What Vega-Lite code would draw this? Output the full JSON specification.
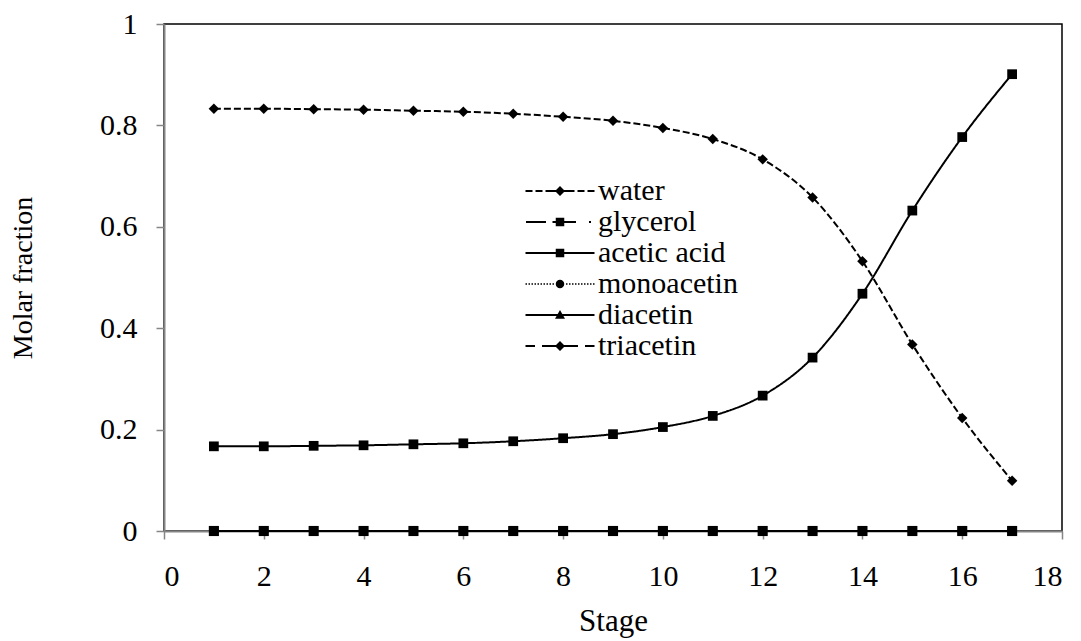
{
  "$schema": "https://vega.github.io/schema/vega-lite/v6.json",
  "autosize": "none",
  "width": 898,
  "height": 507,
  "padding": {"left": 164, "top": 24, "right": 19, "bottom": 110},
  "background": "white",
  "data": {
    "values": [
      {"stage": 1, "water": 0.833, "glycerol": 0, "acetic acid": 0.167, "monoacetin": 0, "diacetin": 0, "triacetin": 0},
      {"stage": 2, "water": 0.833, "glycerol": 0, "acetic acid": 0.167, "monoacetin": 0, "diacetin": 0, "triacetin": 0},
      {"stage": 3, "water": 0.832, "glycerol": 0, "acetic acid": 0.168, "monoacetin": 0, "diacetin": 0, "triacetin": 0},
      {"stage": 4, "water": 0.831, "glycerol": 0, "acetic acid": 0.169, "monoacetin": 0, "diacetin": 0, "triacetin": 0},
      {"stage": 5, "water": 0.829, "glycerol": 0, "acetic acid": 0.171, "monoacetin": 0, "diacetin": 0, "triacetin": 0},
      {"stage": 6, "water": 0.827, "glycerol": 0, "acetic acid": 0.173, "monoacetin": 0, "diacetin": 0, "triacetin": 0},
      {"stage": 7, "water": 0.823, "glycerol": 0, "acetic acid": 0.177, "monoacetin": 0, "diacetin": 0, "triacetin": 0},
      {"stage": 8, "water": 0.817, "glycerol": 0, "acetic acid": 0.183, "monoacetin": 0, "diacetin": 0, "triacetin": 0},
      {"stage": 9, "water": 0.809, "glycerol": 0, "acetic acid": 0.191, "monoacetin": 0, "diacetin": 0, "triacetin": 0},
      {"stage": 10, "water": 0.795, "glycerol": 0, "acetic acid": 0.205, "monoacetin": 0, "diacetin": 0, "triacetin": 0},
      {"stage": 11, "water": 0.773, "glycerol": 0, "acetic acid": 0.227, "monoacetin": 0, "diacetin": 0, "triacetin": 0},
      {"stage": 12, "water": 0.733, "glycerol": 0, "acetic acid": 0.267, "monoacetin": 0, "diacetin": 0, "triacetin": 0},
      {"stage": 13, "water": 0.658, "glycerol": 0, "acetic acid": 0.342, "monoacetin": 0, "diacetin": 0, "triacetin": 0},
      {"stage": 14, "water": 0.532, "glycerol": 0, "acetic acid": 0.468, "monoacetin": 0, "diacetin": 0, "triacetin": 0},
      {"stage": 15, "water": 0.368, "glycerol": 0, "acetic acid": 0.632, "monoacetin": 0, "diacetin": 0, "triacetin": 0},
      {"stage": 16, "water": 0.223, "glycerol": 0, "acetic acid": 0.777, "monoacetin": 0, "diacetin": 0, "triacetin": 0},
      {"stage": 17, "water": 0.099, "glycerol": 0, "acetic acid": 0.901, "monoacetin": 0, "diacetin": 0, "triacetin": 0}
    ]
  },
  "transform": [
    {"fold": ["water", "triacetin", "diacetin", "monoacetin", "acetic acid", "glycerol"], "as": ["series", "value"]}
  ],
  "encoding": {
    "x": {
      "field": "stage", "type": "quantitative",
      "scale": {"domain": [0, 18], "nice": false, "zero": false},
      "axis": {"values": [0, 2, 4, 6, 8, 10, 12, 14, 16, 18], "title": "Stage", "labelPadding": 22, "titlePadding": 15, "titleFontSize": 31}
    },
    "y": {
      "field": "value", "type": "quantitative",
      "scale": {"domain": [0, 1], "nice": false},
      "axis": {"values": [0, 0.2, 0.4, 0.6, 0.8, 1], "format": "~g", "title": "Molar fraction", "labelPadding": 19, "titlePadding": 62, "titleFontSize": 28}
    }
  },
  "layer": [
    {
      "mark": {"type": "line", "color": "black", "strokeWidth": 2, "interpolate": "monotone"},
      "encoding": {
        "strokeDash": {
          "field": "series", "type": "nominal",
          "scale": {
            "domain": ["water", "glycerol", "acetic acid", "monoacetin", "diacetin", "triacetin"],
            "range": [[7, 3], [12, 4, 1, 4], [1, 0], [1.5, 2], [1, 0], [6, 6]]
          },
          "legend": null
        }
      }
    },
    {
      "mark": {"type": "point", "filled": true, "color": "black", "opacity": 1},
      "encoding": {
        "shape": {
          "field": "series", "type": "nominal",
          "scale": {
            "domain": ["water", "glycerol", "acetic acid", "monoacetin", "diacetin", "triacetin"],
            "range": ["diamond", "square", "square", "circle", "triangle-up", "diamond"]
          },
          "legend": null
        },
        "size": {
          "field": "series", "type": "nominal",
          "scale": {
            "domain": ["water", "glycerol", "acetic acid", "monoacetin", "diacetin", "triacetin"],
            "range": [110, 72, 72, 60, 60, 110]
          },
          "legend": null
        }
      }
    },
    {
      "mark": {"type": "point", "filled": true, "color": "black", "opacity": 0, "size": 100, "strokeWidth": 0},
      "encoding": {
        "shape": {
          "field": "series", "type": "nominal",
          "scale": {
            "domain": ["water", "glycerol", "acetic acid", "monoacetin", "diacetin", "triacetin"],
            "range": [
              "M -6.9 -0.2 L -5.5 -0.2 L -5.5 0.2 L -6.9 0.2 Z M -4.9 -0.2 L -3.5 -0.2 L -3.5 0.2 L -4.9 0.2 Z M -2.9 -0.2 L -0.8 -0.2 L -0.8 0.2 L -2.9 0.2 Z M 0.8 -0.2 L 2.9 -0.2 L 2.9 0.2 L 0.8 0.2 Z M 3.5 -0.2 L 4.9 -0.2 L 4.9 0.2 L 3.5 0.2 Z M 5.5 -0.2 L 6.9 -0.2 L 6.9 0.2 L 5.5 0.2 Z M 0 -1 L 1 0 L 0 1 L -1 0 Z",
              "M -6.8 -0.2 L -2.8 -0.2 L -2.8 0.2 L -6.8 0.2 Z M -1.5 -0.2 L 3.2 -0.2 L 3.2 0.2 L -1.5 0.2 Z M 5.8 -0.2 L 6.2 -0.2 L 6.2 0.2 L 5.8 0.2 Z M -0.85 -0.85 L 0.85 -0.85 L 0.85 0.85 L -0.85 0.85 Z",
              "M -6.9 -0.2 L 6.9 -0.2 L 6.9 0.2 L -6.9 0.2 Z M -0.85 -0.85 L 0.85 -0.85 L 0.85 0.85 L -0.85 0.85 Z",
              "M -6.9 -0.15 L -6.6 -0.15 L -6.6 0.15 L -6.9 0.15 Z M -6.3 -0.15 L -6.0 -0.15 L -6.0 0.15 L -6.3 0.15 Z M -5.7 -0.15 L -5.4 -0.15 L -5.4 0.15 L -5.7 0.15 Z M -5.1 -0.15 L -4.8 -0.15 L -4.8 0.15 L -5.1 0.15 Z M -4.5 -0.15 L -4.2 -0.15 L -4.2 0.15 L -4.5 0.15 Z M -3.9 -0.15 L -3.6 -0.15 L -3.6 0.15 L -3.9 0.15 Z M -3.3 -0.15 L -3.0 -0.15 L -3.0 0.15 L -3.3 0.15 Z M -2.7 -0.15 L -2.4 -0.15 L -2.4 0.15 L -2.7 0.15 Z M -2.1 -0.15 L -1.8 -0.15 L -1.8 0.15 L -2.1 0.15 Z M -1.5 -0.15 L -1.2 -0.15 L -1.2 0.15 L -1.5 0.15 Z M 1.2 -0.15 L 1.5 -0.15 L 1.5 0.15 L 1.2 0.15 Z M 1.8 -0.15 L 2.1 -0.15 L 2.1 0.15 L 1.8 0.15 Z M 2.4 -0.15 L 2.7 -0.15 L 2.7 0.15 L 2.4 0.15 Z M 3.0 -0.15 L 3.3 -0.15 L 3.3 0.15 L 3.0 0.15 Z M 3.6 -0.15 L 3.9 -0.15 L 3.9 0.15 L 3.6 0.15 Z M 4.2 -0.15 L 4.5 -0.15 L 4.5 0.15 L 4.2 0.15 Z M 4.8 -0.15 L 5.1 -0.15 L 5.1 0.15 L 4.8 0.15 Z M 5.4 -0.15 L 5.7 -0.15 L 5.7 0.15 L 5.4 0.15 Z M 6.0 -0.15 L 6.3 -0.15 L 6.3 0.15 L 6.0 0.15 Z M 6.6 -0.15 L 6.9 -0.15 L 6.9 0.15 L 6.6 0.15 Z M -0.85 0 A 0.85 0.85 0 1 1 0.85 0 A 0.85 0.85 0 1 1 -0.85 0 Z",
              "M -6.9 -0.2 L 6.9 -0.2 L 6.9 0.2 L -6.9 0.2 Z M 0 -1 L 1 0.75 L -1 0.75 Z",
              "M -6.9 -0.2 L -5 -0.2 L -5 0.2 L -6.9 0.2 Z M -3.6 -0.2 L -0.8 -0.2 L -0.8 0.2 L -3.6 0.2 Z M 0.8 -0.2 L 3.6 -0.2 L 3.6 0.2 L 0.8 0.2 Z M 5 -0.2 L 6.9 -0.2 L 6.9 0.2 L 5 0.2 Z M 0 -1 L 1 0 L 0 1 L -1 0 Z"
            ]
          },
          "legend": {
            "orient": "none",
            "legendX": 381,
            "legendY": 152,
            "direction": "vertical",
            "title": null,
            "labelFont": "Times New Roman, Liberation Serif, serif",
            "labelFontSize": 30,
            "labelColor": "black",
            "labelOffset": 23,
            "labelLimit": 0,
            "symbolSize": 100,
            "symbolOpacity": 1,
            "symbolStrokeWidth": 0,
            "symbolFillColor": "black",
            "padding": 0,
            "rowPadding": 1
          }
        }
      }
    }
  ],
  "resolve": {
    "scale": {"shape": "independent", "strokeDash": "independent", "size": "independent"},
    "legend": {"shape": "independent"}
  },
  "config": {
    "font": "Times New Roman, Liberation Serif, serif",
    "view": {"stroke": "black", "strokeWidth": 1.5},
    "legend": {"labelFont": "Times New Roman, Liberation Serif, serif"},
    "axis": {
      "grid": false,
      "domainColor": "#868686",
      "domainWidth": 2,
      "tickColor": "#868686",
      "tickWidth": 1.5,
      "tickSize": 8,
      "labelFont": "Times New Roman, Liberation Serif, serif",
      "labelFontSize": 30,
      "labelColor": "black",
      "titleFont": "Times New Roman, Liberation Serif, serif",
      "titleFontSize": 30,
      "titleFontWeight": "normal",
      "titleColor": "black"
    }
  }
}
